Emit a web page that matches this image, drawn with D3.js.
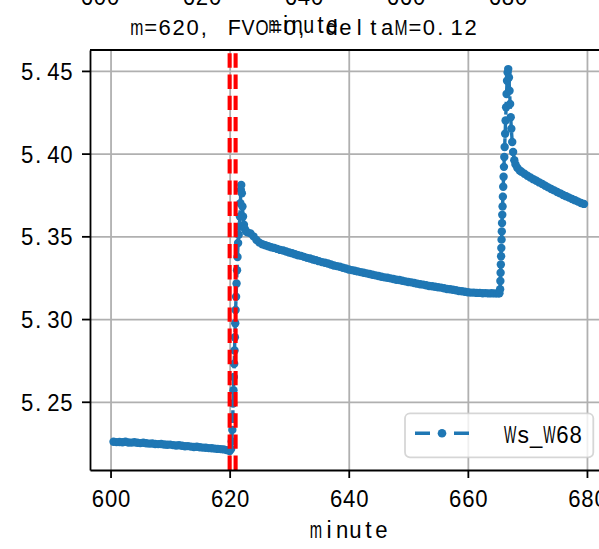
<!DOCTYPE html>
<html>
<head>
<meta charset="utf-8">
<script src="https://cdn.jsdelivr.net/npm/d3@7"></script>
<style>
  html, body { margin: 0; padding: 0; background: #fff; }
  svg { display: block; }
</style>
</head>
<body>
<script>
// ---------------- DATA ----------------
const seriesName = "Ws_W68";
const titleText = "m=620, FVO=0, deltaM=0.12";
const xLabelText = "minute";
const xTicks = [600, 620, 640, 660, 680];
const yTicks = [5.25, 5.30, 5.35, 5.40, 5.45];
const yTickLabels = ["5.25", "5.30", "5.35", "5.40", "5.45"];
const markerLines = [620, 621];

// before the event
const minuteA = [600.5,601,601.5,602,602.5,603,603.5,604,604.5,605,605.5,606,606.5,607,607.5,608,608.5,609,609.5,610,
  610.5,611,611.5,612,612.5,613,613.5,614,614.5,615,615.5,616,616.5,617,617.5,618,618.5,619,619.5,620];
const valueA = [5.2258,5.2256,5.2257,5.2255,5.2258,5.2254,5.2253,5.2255,5.2252,5.2250,5.2252,5.2249,5.2247,5.2248,5.2245,5.2244,5.2245,5.2242,5.2240,5.2241,
  5.2238,5.2236,5.2237,5.2234,5.2231,5.2232,5.2229,5.2227,5.2228,5.2225,5.2223,5.2222,5.2220,5.2219,5.2217,5.2215,5.2214,5.2212,5.2208,5.2203];
// first jump
const minuteB = [620.25,620.35,620.45,620.52,620.58,620.64,620.70,620.76,620.82,620.88,620.94,621.00,621.08,621.16,621.24,621.32,621.42,621.52,621.62,621.72,
  621.80,621.88,621.95,622.05,622.15,622.25,622.40,622.55,622.75];
const valueB = [5.2215,5.2260,5.2330,5.2410,5.2490,5.2570,5.2650,5.2730,5.2810,5.2890,5.2975,5.3055,5.3135,5.3215,5.3295,5.3375,5.3460,5.3510,5.3560,5.3620,
  5.3700,5.3780,5.3810,5.3760,5.3680,5.3620,5.3570,5.3545,5.3530];
// slow decline
const minuteC = [623,623.5,624,624.5,625,625.5,626,626.5,627,627.5,628,628.5,629,629.5,630,630.5,631,631.5,632,632.5,
  633,633.5,634,634.5,635,635.5,636,636.5,637,637.5,638,638.5,639,639.5,640,640.5,641,641.5,642,642.5,
  643,643.5,644,644.5,645,645.5,646,646.5,647,647.5,648,648.5,649,649.5,650,650.5,651,651.5,652,652.5,
  653,653.5,654,654.5,655,655.5,656,656.5,657,657.5,658,658.5,659,659.5,660,660.5,661,661.5,662,662.5,
  663,663.5,664,664.5,665,665.3];
const valueC = [5.3524,5.3518,5.3500,5.3478,5.3462,5.3452,5.3446,5.3440,5.3434,5.3430,5.3424,5.3418,5.3414,5.3408,5.3402,5.3398,5.3392,5.3386,5.3382,5.3376,
  5.3370,5.3366,5.3360,5.3356,5.3350,5.3344,5.3340,5.3336,5.3330,5.3324,5.3320,5.3316,5.3310,5.3306,5.3300,5.3296,5.3292,5.3288,5.3284,5.3280,
  5.3276,5.3272,5.3268,5.3264,5.3260,5.3256,5.3252,5.3250,5.3246,5.3242,5.3238,5.3236,5.3232,5.3228,5.3224,5.3222,5.3218,5.3214,5.3210,5.3208,
  5.3204,5.3200,5.3198,5.3195,5.3192,5.3190,5.3186,5.3182,5.3180,5.3177,5.3174,5.3170,5.3168,5.3165,5.3162,5.3160,5.3160,5.3158,5.3158,5.3156,
  5.3157,5.3155,5.3156,5.3155,5.3155,5.3156];
// second jump
const minuteD = [665.42,665.46,665.50,665.54,665.58,665.62,665.66,665.70,665.74,665.78,665.83,665.88,665.94,666.00,666.06,666.12,666.18,666.26,666.34,666.42,
  666.50,666.58,666.68,666.78];
const valueD = [5.3180,5.3230,5.3280,5.3330,5.3380,5.3430,5.3480,5.3530,5.3580,5.3630,5.3680,5.3740,5.3800,5.3860,5.3920,5.3980,5.4040,5.4120,5.4200,5.4280,
  5.4360,5.4440,5.4490,5.4511];
// relaxation
const minuteE = [666.90,667.00,667.10,667.20,667.30,667.45,667.60,667.80,668.00,668.30,668.70,669,669.5,670,670.5,671,671.5,672,672.5,673,
  673.5,674,674.5,675,675.5,676,676.5,677,677.5,678,678.5,679,679.5];
const valueE = [5.4460,5.4380,5.4300,5.4220,5.4150,5.4070,5.4010,5.3960,5.3935,5.3915,5.3898,5.3890,5.3878,5.3866,5.3856,5.3845,5.3836,5.3826,5.3816,5.3806,
  5.3796,5.3786,5.3778,5.3768,5.3760,5.3750,5.3742,5.3734,5.3726,5.3718,5.3710,5.3702,5.3696];

const minutes = [].concat(minuteA, minuteB, minuteC, minuteD, minuteE);
const values = [].concat(valueA, valueB, valueC, valueD, valueE);
const data = minutes.map((m, i) => ({ m, v: values[i] }));

// ---------------- LAYOUT ----------------
const W = 599, H = 549;
const L = 90, R = 607.5, T = 50, B = 470;
const FONT = "'Liberation Sans', Arial, sans-serif";
const BLUE = "#1f77b4";

const svg = d3.select("body").append("svg").attr("width", W).attr("height", H)
  .attr("font-family", FONT);

// matplotlib-like 5% margins
const xe = d3.extent(minutes), ye = d3.extent(values);
const xm = (xe[1] - xe[0]) * 0.05, ym = (ye[1] - ye[0]) * 0.05;
const x = d3.scaleLinear().domain([xe[0] - xm, xe[1] + xm]).range([L, R]);
const y = d3.scaleLinear().domain([ye[0] - ym, ye[1] + ym]).range([B, T]);

// half-width cell text (SimHei-like monospace look)
function setCells(textSel, str, ax, cell, anchor) {
  textSel.text(null).attr("text-anchor", "start").attr("dy", null)
    .attr("xml:space", "preserve").style("white-space", "pre");
  const n = str.length, total = n * cell;
  const x0 = anchor === "middle" ? ax - total / 2 : anchor === "end" ? ax - total : ax;
  Array.from(str).forEach((c, i) => {
    const ts = textSel.append("tspan").text(c);
    const cs = x0 + i * cell;
    if (c === " ") { ts.attr("x", cs); return; }
    const a = ts.node().getComputedTextLength();
    if (a > cell * 0.95) {
      ts.attr("x", cs + cell * 0.03).attr("textLength", cell * 0.94).attr("lengthAdjust", "spacingAndGlyphs");
    } else if (c === "." || c === ",") {
      ts.attr("x", cs + cell * 0.1);
    } else {
      ts.attr("x", cs + (cell - a) / 2);
    }
  });
}

const TICK_SIZE = 23, CELL = 13.1;

// ---------------- GRID ----------------
svg.append("g").attr("transform", `translate(0,${B})`)
  .call(d3.axisBottom(x).tickValues(xTicks).tickSize(-(B - T)).tickFormat(""))
  .call(g => g.select(".domain").remove())
  .call(g => g.selectAll("line").attr("stroke", "#b0b0b0").attr("stroke-width", 1.8));
svg.append("g").attr("transform", `translate(${L},0)`)
  .call(d3.axisLeft(y).tickValues(yTicks).tickSize(-(R - L)).tickFormat(""))
  .call(g => g.select(".domain").remove())
  .call(g => g.selectAll("line").attr("stroke", "#b0b0b0").attr("stroke-width", 1.8));

// ---------------- DATA ----------------
svg.append("defs").append("clipPath").attr("id", "clip")
  .append("rect").attr("x", L).attr("y", T).attr("width", R - L).attr("height", B - T);
const plot = svg.append("g").attr("clip-path", "url(#clip)");

plot.append("path").datum(data)
  .attr("d", d3.line().x(d => x(d.m)).y(d => y(d.v)))
  .attr("fill", "none").attr("stroke", BLUE).attr("stroke-width", 3.4)
  .attr("stroke-dasharray", "12.7 5.5");
plot.append("g").selectAll("circle").data(data).join("circle")
  .attr("cx", d => x(d.m)).attr("cy", d => y(d.v)).attr("r", 4.2)
  .attr("fill", BLUE);

// red markers
plot.append("g").selectAll("line").data(markerLines).join("line")
  .attr("x1", d => x(d)).attr("x2", d => x(d))
  .attr("y1", B).attr("y2", T)
  .attr("stroke", "#ff0000").attr("stroke-width", 4.1)
  .attr("stroke-dasharray", "14.4 6.77");

// ---------------- AXES ----------------
const gx = svg.append("g").attr("transform", `translate(0,${B})`)
  .call(d3.axisBottom(x).tickValues(xTicks).tickSize(8).tickSizeOuter(0).tickFormat(d => String(d)));
gx.attr("font-family", FONT).attr("font-size", TICK_SIZE);
gx.select(".domain").attr("stroke", "#000").attr("stroke-width", 1.8);
gx.selectAll(".tick line").attr("stroke", "#000").attr("stroke-width", 1.8);
gx.selectAll(".tick text").each(function (d) {
  const t = d3.select(this).attr("y", 37.3).attr("fill", "#000");
  setCells(t, String(d), 0, CELL, "middle");
});

const gy = svg.append("g").attr("transform", `translate(${L},0)`)
  .call(d3.axisLeft(y).tickValues(yTicks).tickSize(8).tickSizeOuter(0).tickFormat((d, i) => yTickLabels[i]));
gy.attr("font-family", FONT).attr("font-size", TICK_SIZE);
gy.select(".domain").attr("stroke", "#000").attr("stroke-width", 1.8);
gy.selectAll(".tick line").attr("stroke", "#000").attr("stroke-width", 1.8);
gy.selectAll(".tick text").each(function (d, i) {
  const t = d3.select(this).attr("y", 8.6).attr("fill", "#000");
  setCells(t, yTickLabels[i], -17, CELL, "end");
});

// top / right spines
svg.append("line").attr("x1", L).attr("x2", R).attr("y1", T).attr("y2", T)
  .attr("stroke", "#000").attr("stroke-width", 1.8);
svg.append("line").attr("x1", R).attr("x2", R).attr("y1", T).attr("y2", B)
  .attr("stroke", "#000").attr("stroke-width", 1.8);

// x label
setCells(svg.append("text").attr("font-size", TICK_SIZE).attr("y", 538), xLabelText, (L + R) / 2, CELL, "middle");

// ---------------- UPPER SUBPLOT REMNANTS ----------------
const x2 = d3.scaleLinear().domain([600, 680]).range([100, 508]);
xTicks.forEach(v => {
  setCells(svg.append("text").attr("font-size", TICK_SIZE).attr("y", 4.5), String(v), x2(v), CELL, "middle");
});
setCells(svg.append("text").attr("font-size", TICK_SIZE).attr("y", 33.3), xLabelText, 303, 11.6, "middle");

// title
setCells(svg.append("text").attr("font-size", 22).attr("y", 35.3), titleText, 303.7, 13.9, "middle");

// ---------------- LEGEND ----------------
const lg = svg.append("g");
lg.append("rect").attr("x", 405).attr("y", 413.3).attr("width", 188.3).attr("height", 44)
  .attr("rx", 5).attr("ry", 5)
  .attr("fill", "#fff").attr("fill-opacity", 0.8)
  .attr("stroke", "#cccccc").attr("stroke-opacity", 0.8).attr("stroke-width", 1.8);
lg.append("line").attr("x1", 415).attr("x2", 469.3).attr("y1", 433.3).attr("y2", 433.3)
  .attr("stroke", BLUE).attr("stroke-width", 3.4).attr("stroke-dasharray", "15 24 15");
lg.append("circle").attr("cx", 442).attr("cy", 433.3).attr("r", 4.3).attr("fill", BLUE);
setCells(lg.append("text").attr("font-size", TICK_SIZE).attr("y", 442.7), seriesName, 503.5, CELL, "start");
</script>
</body>
</html>
